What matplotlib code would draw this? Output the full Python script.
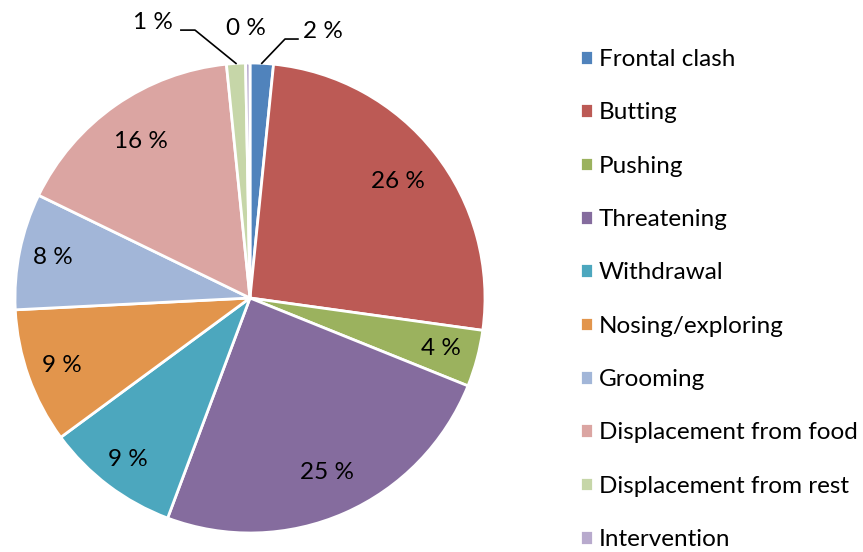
import matplotlib
matplotlib.use("Agg")
import matplotlib.pyplot as plt
import numpy as np

plt.rcParams['font.family'] = ['Lato', 'DejaVu Sans']

categories = ["Frontal clash", "Butting", "Pushing", "Threatening", "Withdrawal",
              "Nosing/exploring", "Grooming", "Displacement from food",
              "Displacement from rest", "Intervention"]
shares = [1.6, 25.6, 3.9, 24.6, 9.2, 9.3, 8.0, 16.2, 1.3, 0.3]
colors = ["#5083BC", "#BC5A55", "#9BB25E", "#856C9E", "#4CA7BE",
          "#E2954C", "#A2B6D8", "#DBA5A2", "#C6D6A8", "#B8AACD"]

W, H = 863, 552
fig = plt.figure(figsize=(W / 100, H / 100), dpi=100)
# pie centre (250, 298) px from top, radius 235 px
cx, cy, r = 250, H - 298, 235
ax = fig.add_axes([(cx - r) / W, (cy - r) / H, 2 * r / W, 2 * r / H])

wedges, _ = ax.pie(shares, colors=colors, startangle=90, counterclock=False,
                   wedgeprops=dict(edgecolor="white", linewidth=2))
ax.set_xlim(-1, 1)
ax.set_ylim(-1, 1)
ax.set_aspect("equal")

fs = 17.5
# 内部标签位置（按半径比例）
inner_dist = {1: 0.80, 2: 0.84, 3: 0.81, 4: 0.86, 5: 0.85, 6: 0.855, 7: 0.81}
for i, w in enumerate(wedges):
    label = "%.0f %%" % shares[i]
    ang = np.deg2rad((w.theta1 + w.theta2) / 2)
    if i in inner_dist:
        d = inner_dist[i]
        ax.text(d * np.cos(ang), d * np.sin(ang), label, ha="center", va="center",
                fontsize=fs, color="black")
    elif i == 0:
        x0, y0 = np.cos(ang), np.sin(ang)
        ax.plot([x0, 0.149, 0.204], [y0, 1.102, 1.102], color="black", lw=1.2,
                clip_on=False)
        ax.text(0.226, 1.132, label, ha="left", va="center", fontsize=fs)
    elif i == 8:
        x0, y0 = np.cos(ang), np.sin(ang)
        ax.plot([x0, -0.234, -0.294], [y0, 1.140, 1.140], color="black", lw=1.2,
                clip_on=False)
        ax.text(-0.328, 1.174, label, ha="right", va="center", fontsize=fs)
    else:
        ax.text(-0.017, 1.147, label, ha="center", va="center", fontsize=fs)

fig.legend(wedges, categories, loc="upper left",
           bbox_to_anchor=(580 / W, (H - 49) / H), frameon=False,
           fontsize=fs, handlelength=0.55, handleheight=0.55, handletextpad=0.22,
           labelspacing=1.33, borderpad=0, borderaxespad=0)

fig.savefig("out.png", dpi=100)
